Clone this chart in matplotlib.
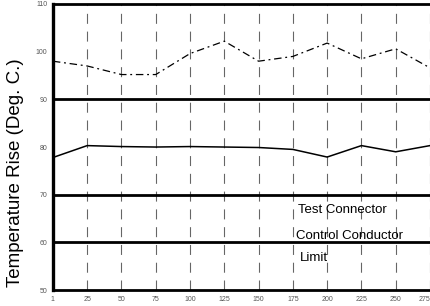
import matplotlib
matplotlib.use('Agg')
import matplotlib.pyplot as plt

# cycle labels along the bottom axis
cycles = ['1', '25', '50', '75', '100', '125', '150', '175', '200', '225', '250', '275']

# temperature rise readings (deg C)
test_connector = [98.0, 97.0, 95.2, 95.2, 99.6, 102.2, 98.0, 99.0, 101.8, 98.5, 100.6, 96.6]
control_conductor = [77.8, 80.3, 80.1, 80.0, 80.1, 80.0, 79.9, 79.5, 77.9, 80.3, 79.0, 80.3]

y_ticks = [50, 60, 70, 80, 90, 100, 110]
ruled_levels = [60, 70, 90]

legend_labels = ['Test Connector', 'Control Conductor', 'Limit']

plt.rcParams['font.family'] = ['Liberation Sans', 'DejaVu Sans']

fig = plt.figure(figsize=(4.30, 3.06), dpi=100)
ax = fig.add_axes([0.123, 0.052, 0.877, 0.935])

x = list(range(len(cycles)))

# broken vertical rules at every cycle mark
for xi in x:
    ax.axvline(xi, color='black', lw=0.8, ls=(0, (9, 7)), alpha=0.6, zorder=1)

# heavy horizontal rules
for lvl in ruled_levels:
    ax.axhline(lvl, color='black', lw=2.0, zorder=2)

ax.plot(x, test_connector, color='black', lw=0.9, ls=(0, (6, 3, 1.5, 3)), zorder=3)
ax.plot(x, control_conductor, color='black', lw=1.1, zorder=3)

ax.set_xlim(0, 11)
ax.set_ylim(50, 110)

ax.set_xticks(x)
ax.set_xticklabels(cycles)
ax.set_yticks(y_ticks)
ax.tick_params(axis='both', length=0, labelsize=5, colors='#555555', pad=4)
# last label sits on the figure edge, keep it inside
ax.get_xticklabels()[-1].set_horizontalalignment('right')

ax.set_ylabel('Temperature Rise (Deg. C.)', fontsize=13.5)
ax.yaxis.set_label_coords(-0.077, 0.41)

ax.spines['right'].set_visible(False)
ax.spines['left'].set_linewidth(2.4)
ax.spines['bottom'].set_linewidth(2.0)
ax.spines['top'].set_linewidth(2.0)

# legend text (line samples were lost in the original scan)
leg_y = [66.8, 61.4, 56.8]
leg_x = [7.15, 7.1, 7.2]
for lx, ly, lab in zip(leg_x, leg_y, legend_labels):
    ax.text(lx, ly, lab, fontsize=9.5, va='center', ha='left')

fig.savefig('out.png', dpi=100)
